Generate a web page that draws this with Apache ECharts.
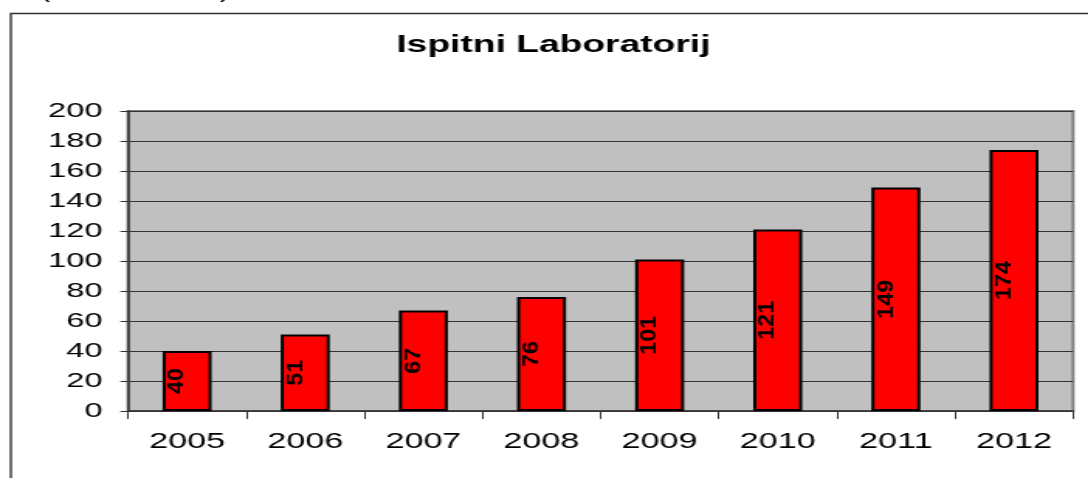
<!DOCTYPE html>
<html>
<head>
<meta charset="utf-8">
<script src="https://cdn.jsdelivr.net/npm/echarts@6/dist/echarts.min.js"></script>
<style>
html,body{margin:0;padding:0;background:#fff;overflow:hidden;width:1088px;height:478px;}
#chart{width:702px;height:478px;transform:scaleX(1.55);transform-origin:0 0;}
</style>
</head>
<body>
<div id="chart"></div>
<script>
const titleText = 'Ispitni Laboratorij';
const categories = ['2005','2006','2007','2008','2009','2010','2011','2012'];
const values = [40, 51, 67, 76, 101, 121, 149, 174];
const yTicks = [0, 20, 40, 60, 80, 100, 120, 140, 160, 180, 200];

const FONT = '"Liberation Sans", Arial, sans-serif';
const chart = echarts.init(document.getElementById('chart'), null, {renderer: 'canvas'});

chart.setOption({
  animation: false,
  backgroundColor: '#ffffff',
  title: {
    text: titleText,
    left: 352,
    textAlign: 'center',
    top: 28,
    textStyle: {fontFamily: FONT, fontSize: 24, fontWeight: 'bold', color: '#000'}
  },
  graphic: [
    {type: 'rect', left: 4.5, top: 11, shape: {x: 0, y: 0, width: 800, height: 600},
     style: {fill: 'none', stroke: '#333', lineWidth: 1.4}, silent: true, z: 0},
    {type: 'text', x: 29, y: 2.5, style: {text: '(', font: '20px ' + FONT, fill: '#000', align: 'center', verticalAlign: 'bottom'}},
    {type: 'text', x: 145, y: 2.5, style: {text: ')', font: '20px ' + FONT, fill: '#000', align: 'center', verticalAlign: 'bottom'}}
  ],
  grid: {
    left: 82.6, right: 9.7, top: 111, bottom: 67,
    show: true, backgroundColor: '#c0c0c0', borderColor: '#808080', borderWidth: 2
  },
  xAxis: {
    type: 'category',
    data: categories,
    boundaryGap: true,
    axisLine: {lineStyle: {color: '#333', width: 1.5}},
    axisTick: {show: true, length: 8, lineStyle: {color: '#333', width: 1}},
    axisLabel: {fontFamily: FONT, fontSize: 22, color: '#000', margin: 20}
  },
  yAxis: {
    type: 'value',
    min: yTicks[0], max: yTicks[yTicks.length - 1], interval: yTicks[1] - yTicks[0],
    axisLine: {show: true, lineStyle: {color: '#333', width: 1.5}},
    axisTick: {show: true, length: 5, lineStyle: {color: '#333', width: 1}},
    axisLabel: {fontFamily: FONT, fontSize: 21, color: '#000', margin: 16.5},
    splitLine: {show: true, lineStyle: {color: '#333', width: 1.2}}
  },
  series: [
    {
      type: 'bar',
      data: values,
      barWidth: 31.6,
      itemStyle: {color: '#ff0000', borderColor: '#000', borderWidth: 2},
      z: 2
    },
    {
      type: 'custom',
      data: categories.map((c, i) => [c, values[i]]),
      z: 5,
      renderItem: function (params, api) {
        const top = api.coord([api.value(0), api.value(1)]);
        const base = api.coord([api.value(0), 0]);
        return {
          type: 'text',
          x: top[0] - 6.5,
          y: (top[1] + base[1]) / 2,
          rotation: Math.PI / 2,
          scaleX: 1.55,
          style: {
            text: String(api.value(1)),
            font: 'bold 15px ' + FONT,
            fill: '#000',
            align: 'center',
            verticalAlign: 'middle'
          }
        };
      }
    }
  ]
});
</script>
</body>
</html>
